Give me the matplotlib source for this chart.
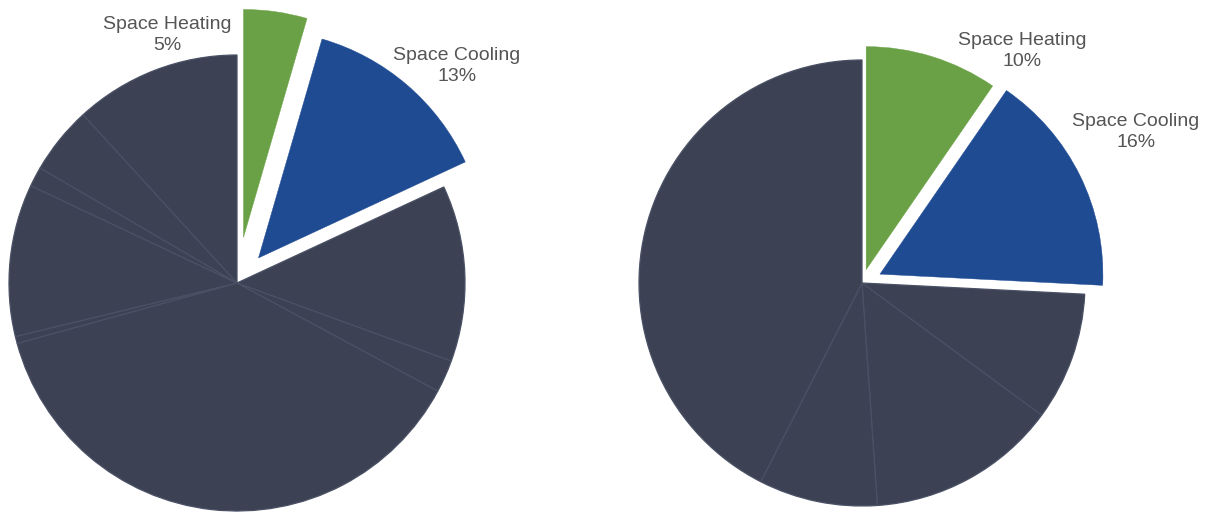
import matplotlib.pyplot as plt

plt.rcParams['font.family'] = ['Liberation Sans', 'DejaVu Sans']

# left pie (shares, %), clockwise from 12 o'clock
left_names = ['Space Heating', 'Space Cooling', 'Other A', 'Other B', 'Other C',
              'Other D', 'Other E', 'Other F', 'Other G', 'Other H']
left_shares = [4.5, 13.6, 12.5, 2.3, 37.9, 0.5, 10.8, 1.4, 4.8, 11.8]
left_labels = ['5%', '13%']

# right pie
right_names = ['Space Heating', 'Space Cooling', 'Other A', 'Other B', 'Other C', 'Other D']
right_shares = [9.6, 16.2, 9.3, 13.8, 8.6, 42.5]
right_labels = ['10%', '16%']

dark = '#3c4254'
green = '#6aa146'
blue = '#1f4b93'
line_col = '#4b5165'
text_col = '#555555'

W, H = 1212, 513
fig = plt.figure(figsize=(W / 100, H / 100), dpi=100)
ax = fig.add_axes([0, 0, 1, 1])


def draw_pie(shares, center, radius, explode):
    colors = [green, blue] + [dark] * (len(shares) - 2)
    # pie explode is in data units here (pixels)
    ex = list(explode) + [0] * (len(shares) - 2)
    wedges, _ = ax.pie(shares, colors=colors, explode=ex, center=center,
                       radius=radius, startangle=90, counterclock=False,
                       wedgeprops=dict(linewidth=0.9))
    for i, w in enumerate(wedges):
        if i < 2:
            w.set_edgecolor(w.get_facecolor())
            w.set_linewidth(0.3)
        else:
            w.set_edgecolor(line_col)
    return wedges


draw_pie(left_shares, (237, H - 283), 228, [46, 33])
draw_pie(right_shares, (862, H - 283), 223, [14, 20])

# labels for the highlighted slices
labels = [
    (167, 35, left_names[0], left_labels[0]),
    (457, 66, left_names[1], left_labels[1]),
    (1022, 51, right_names[0], right_labels[0]),
    (1136, 132, right_names[1], right_labels[1]),
]
for x, y, name, pct in labels:
    ax.text(x, H - y, f'{name}\n{pct}', ha='center', va='center',
            fontsize=14, color=text_col, linespacing=1.35)

ax.set_xlim(0, W)
ax.set_ylim(0, H)
ax.set_aspect('equal')
ax.axis('off')

fig.savefig('out.png', dpi=100)
